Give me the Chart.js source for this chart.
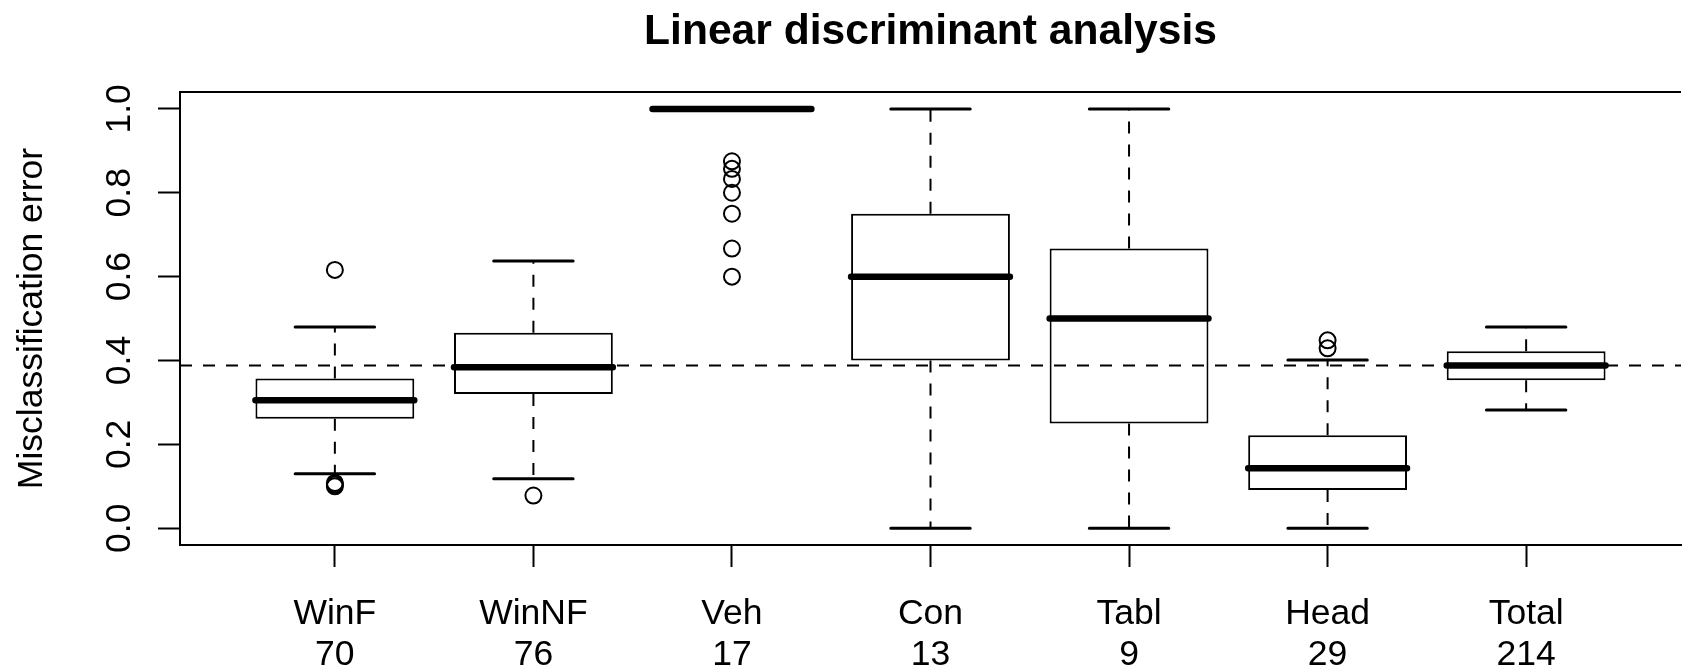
<!DOCTYPE html>
<html>
<head>
<meta charset="utf-8">
<title>Linear discriminant analysis</title>
<script src="https://cdn.jsdelivr.net/npm/chart.js@4.4.1/dist/chart.umd.min.js"></script>
<style>
    html, body { margin: 0; padding: 0; background: #fff; }
    /* the plot region runs a few pixels past the right edge of the picture */
    #wrap { width: 1682px; height: 668px; overflow: hidden; position: relative; }
    #ldaChart { display: block; position: absolute; left: 0; top: 0; width: 1691px !important; height: 668px !important; max-width: none !important; }
</style>
</head>
<body>
<div id="wrap"><canvas id="ldaChart" width="1691" height="668"></canvas></div>
<script>
// group names and sizes (second line of the x labels)
const categories = ['WinF', 'WinNF', 'Veh', 'Con', 'Tabl', 'Head', 'Total'];
const counts = [70, 76, 17, 13, 9, 29, 214];

// five-number summaries
const lowerWhisker = [0.130, 0.118, 1.000, 0.000, 0.000, 0.000, 0.282];
const lowerQuartile = [0.261, 0.320, 1.000, 0.400, 0.250, 0.091, 0.353];
const medians = [0.305, 0.384, 1.000, 0.600, 0.500, 0.143, 0.388];
const upperQuartile = [0.357, 0.466, 1.000, 0.750, 0.667, 0.222, 0.422];
const upperWhisker = [0.480, 0.637, 1.000, 1.000, 1.000, 0.401, 0.480];
const outliers = [
    [0.616, 0.100, 0.104, 0.108],
    [0.078],
    [0.875, 0.857, 0.833, 0.800, 0.750, 0.667, 0.600],
    [],
    [],
    [0.429, 0.448],
    []
];

// dashed reference line (overall error)
const overallError = 0.388;

const yTicks = [0, 0.2, 0.4, 0.6, 0.8, 1.0];
const yTickLabels = ['0.0', '0.2', '0.4', '0.6', '0.8', '1.0'];

// R style axis ranges: 4% extension on both axes
const n = categories.length;
const X_MIN = 0.5 - 0.04 * n;
const X_MAX = n + 0.5 + 0.04 * n;
const Y_MIN = 0 - 0.04;
const Y_MAX = 1 + 0.04;

const BOX_HALF = 0.4;
const STAPLE_HALF = 0.2;

Chart.defaults.font.family = '"Liberation Sans", Arial, Helvetica, sans-serif';
Chart.defaults.color = '#000';

const medianPts = categories.flatMap((c, i) => [
    { x: i + 1 - BOX_HALF, y: medians[i] },
    { x: i + 1 + BOX_HALF, y: medians[i] },
    { x: i + 1.5, y: null }
]);

const whiskerPts = categories.flatMap((c, i) => [
    { x: i + 1, y: upperQuartile[i] },
    { x: i + 1, y: upperWhisker[i] },
    { x: i + 1, y: null },
    { x: i + 1, y: lowerQuartile[i] },
    { x: i + 1, y: lowerWhisker[i] },
    { x: i + 1.5, y: null }
]);

const staplePts = categories.flatMap((c, i) => [
    { x: i + 1 - STAPLE_HALF, y: upperWhisker[i] },
    { x: i + 1 + STAPLE_HALF, y: upperWhisker[i] },
    { x: i + 1, y: null },
    { x: i + 1 - STAPLE_HALF, y: lowerWhisker[i] },
    { x: i + 1 + STAPLE_HALF, y: lowerWhisker[i] },
    { x: i + 1.5, y: null }
]);

const boxPts = categories.map((c, i) => ({ x: i + 1, y: [lowerQuartile[i], upperQuartile[i]] }));

const outlierPts = outliers.flatMap((vals, i) => vals.map(v => ({ x: i + 1, y: v })));

// top edge of the plot frame (left and bottom come from the axes)
const frameTop = {
    id: 'frameTop',
    afterDraw(chart) {
        const { ctx, chartArea } = chart;
        ctx.save();
        ctx.strokeStyle = '#000';
        ctx.lineWidth = 2;
        ctx.beginPath();
        ctx.moveTo(chartArea.left - 1, chartArea.top);
        ctx.lineTo(chartArea.right, chartArea.top);
        ctx.stroke();
        ctx.restore();
    }
};

new Chart(document.getElementById('ldaChart'), {
    type: 'bar',
    data: {
        datasets: [
            {
                type: 'line',
                label: 'overall',
                data: [{ x: X_MIN, y: overallError }, { x: X_MAX, y: overallError }],
                borderColor: '#000',
                borderWidth: 2,
                borderDash: [12, 11],
                pointRadius: 0,
                fill: false,
                order: 0
            },
            {
                type: 'line',
                label: 'median',
                data: medianPts,
                borderColor: '#000',
                borderWidth: 6.5,
                borderCapStyle: 'round',
                pointRadius: 0,
                fill: false,
                order: 1
            },
            {
                type: 'scatter',
                label: 'outliers',
                data: outlierPts,
                borderColor: '#000',
                backgroundColor: 'rgba(0,0,0,0)',
                borderWidth: 2,
                pointRadius: 8,
                order: 1
            },
            {
                type: 'line',
                label: 'staples',
                data: staplePts,
                borderColor: '#000',
                borderWidth: 3,
                borderCapStyle: 'round',
                pointRadius: 0,
                fill: false,
                order: 2
            },
            {
                type: 'line',
                label: 'whiskers',
                data: whiskerPts,
                borderColor: '#000',
                borderWidth: 2,
                borderDash: [12, 11],
                pointRadius: 0,
                fill: false,
                order: 2
            },
            {
                type: 'bar',
                label: 'box',
                data: boxPts,
                backgroundColor: '#fff',
                borderColor: '#000',
                borderWidth: 2,
                borderSkipped: false,
                categoryPercentage: 1,
                barPercentage: 0.8,
                order: 3
            }
        ]
    },
    options: {
        responsive: false,
        maintainAspectRatio: false,
        devicePixelRatio: 1,
        animation: false,
        events: [],
        layout: { padding: 0 },
        plugins: {
            legend: { display: false },
            tooltip: { enabled: false },
            title: {
                display: true,
                text: 'Linear discriminant analysis',
                fullSize: false,
                color: '#000',
                font: { size: 42.6, weight: 'bold' },
                padding: { top: 7, bottom: 34 }
            }
        },
        scales: {
            x: {
                type: 'linear',
                min: X_MIN,
                max: X_MAX,
                bounds: 'data',
                offset: false,
                afterFit: function (scale) {
                    scale.height = 123;
                },
                afterBuildTicks: function (scale) {
                    scale.ticks = categories.map((c, i) => ({ value: i + 1 }));
                },
                ticks: {
                    autoSkip: false,
                    maxRotation: 0,
                    padding: 27,
                    font: { size: 35.5, lineHeight: 1.15 },
                    callback: function (value, index) {
                        return [categories[index], String(counts[index])];
                    }
                },
                grid: {
                    offset: false,
                    drawOnChartArea: false,
                    tickLength: 22,
                    tickColor: '#000',
                    tickWidth: 2
                },
                border: { display: true, color: '#000', width: 2 }
            },
            y: {
                type: 'linear',
                min: Y_MIN,
                max: Y_MAX,
                bounds: 'data',
                afterFit: function (scale) {
                    scale.width = 180;
                },
                afterBuildTicks: function (scale) {
                    scale.ticks = yTicks.map(v => ({ value: v }));
                },
                ticks: {
                    minRotation: 90,
                    maxRotation: 90,
                    crossAlign: 'center',
                    padding: 13,
                    font: { size: 35.5 },
                    callback: function (value, index) {
                        return yTickLabels[index];
                    }
                },
                grid: {
                    drawOnChartArea: false,
                    tickLength: 22,
                    tickColor: '#000',
                    tickWidth: 2
                },
                border: { display: true, color: '#000', width: 2 },
                title: {
                    display: true,
                    text: 'Misclassification error',
                    font: { size: 35.5 },
                    padding: { top: 11, bottom: 0 }
                }
            }
        }
    },
    plugins: [frameTop]
});
</script>
</body>
</html>
